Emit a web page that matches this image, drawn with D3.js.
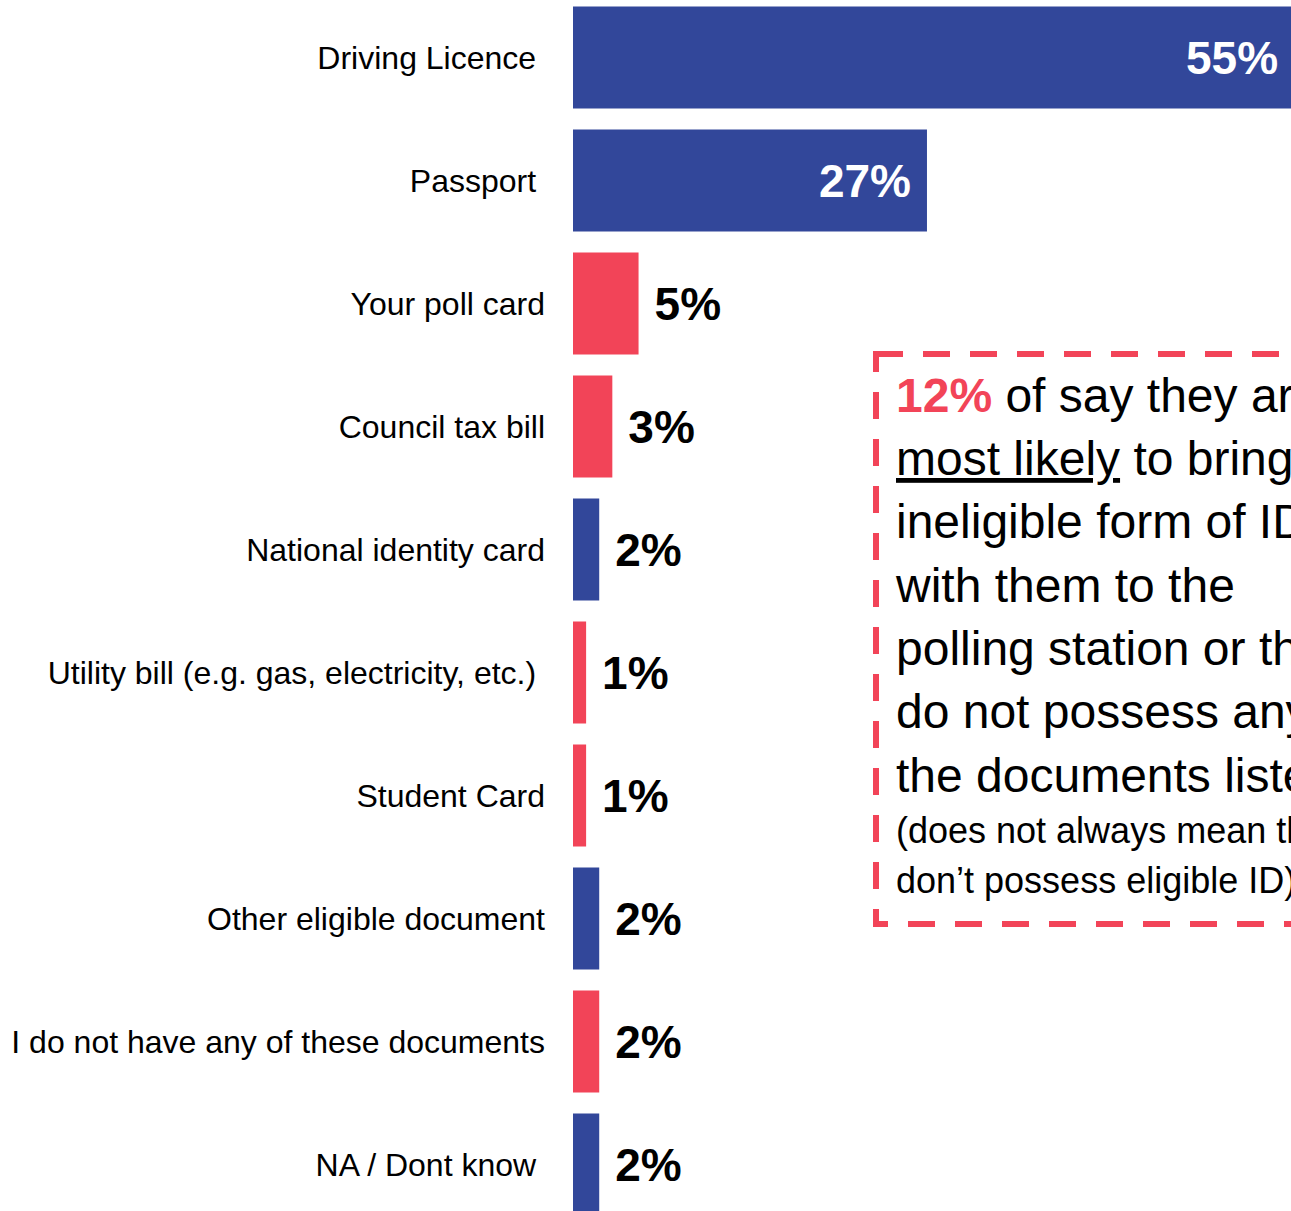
<!DOCTYPE html>
<html>
<head>
<meta charset="utf-8">
<script src="https://cdn.jsdelivr.net/npm/d3@7"></script>
<style>
  html, body { margin: 0; padding: 0; background: #fff; overflow: hidden; }
  svg { display: block; font-family: "Liberation Sans", Arial, sans-serif; }
  text { white-space: pre; }
</style>
</head>
<body>
<div class="Chart"></div>
<script>
// categories (trailing spaces are in the original labels)
const categories = [
  'Driving Licence ',
  'Passport ',
  'Your poll card',
  'Council tax bill',
  'National identity card',
  'Utility bill (e.g. gas, electricity, etc.) ',
  'Student Card',
  'Other eligible document',
  'I do not have any of these documents',
  'NA / Dont know '
];
const values = [55, 27, 5, 3, 2, 1, 1, 2, 2, 2];
const groups = ['eligible', 'eligible', 'ineligible', 'ineligible', 'eligible',
  'ineligible', 'ineligible', 'eligible', 'ineligible', 'eligible'];

const noteHighlight = '12%';
const noteLines = [
  ' of say they are',
  'most likely to bring an',
  'ineligible form of ID',
  'with them to the',
  'polling station or they',
  'do not possess any of',
  'the documents listed'
];
const noteSmallLines = [
  '(does not always mean they',
  'don’t possess eligible ID)'
];

const width = 1291, height = 1211;
const BLUE = '#32479A', RED = '#F24458';

const svg = d3.select('.Chart').append('svg')
  .attr('width', width).attr('height', height)
  .attr('xml:space', 'preserve');

const data = categories.map((c, i) => ({ cat: c, value: values[i], group: groups[i] }));

const x = d3.scaleLinear().domain([0, 100]).range([573, 573 + 1311]);
const y = d3.scaleBand().domain(categories).range([-14.5, 1236.5]).padding(21 / 123);
const color = d3.scaleOrdinal().domain(['eligible', 'ineligible']).range([BLUE, RED]);

// bars
svg.selectAll('.Bar')
  .data(data)
  .enter().append('rect')
  .attr('class', 'Bar')
  .attr('x', x(0))
  .attr('y', d => y(d.cat))
  .attr('width', d => x(d.value) - x(0))
  .attr('height', y.bandwidth())
  .attr('fill', d => color(d.group));

// category labels
const yAxis = svg.append('g')
  .attr('transform', `translate(${x(0)}, 0)`)
  .call(d3.axisLeft(y).tickSize(0).tickPadding(28));
yAxis.selectAll('.domain').remove();
yAxis.selectAll('text')
  .attr('font-family', '"Liberation Sans", Arial, sans-serif')
  .style('font-size', '32px')
  .style('fill', '#000')
  .attr('dy', '0.36em');

// value labels
svg.selectAll('.Val')
  .data(data)
  .enter().append('text')
  .attr('class', 'Val')
  .attr('x', d => d.value > 10 ? x(d.value) - 16 : x(d.value) + 16)
  .attr('y', d => y(d.cat) + y.bandwidth() / 2)
  .attr('dy', '0.36em')
  .attr('text-anchor', d => d.value > 10 ? 'end' : 'start')
  .style('font-size', '46px')
  .style('font-weight', 'bold')
  .style('fill', d => d.value > 10 ? '#fff' : '#000')
  .text(d => d.value + '%');

// annotation box
svg.append('rect')
  .attr('x', 876).attr('y', 354)
  .attr('width', 520).attr('height', 570)
  .attr('fill', 'none')
  .attr('stroke', RED)
  .attr('stroke-width', 6)
  .attr('stroke-dasharray', '27 20');

const note = svg.append('g');
const first = note.append('text')
  .attr('x', 896).attr('y', 412)
  .style('font-size', '48px');
first.append('tspan').text(noteHighlight)
  .style('font-weight', 'bold').style('fill', RED);
first.append('tspan').text(noteLines[0]).style('fill', '#000');

noteLines.slice(1).forEach((line, i) => {
  const t = note.append('text')
    .attr('x', 896).attr('y', 475 + i * 63.3)
    .style('font-size', '48px').style('fill', '#000');
  if (i === 0) {
    t.append('tspan').text('most likely').style('text-decoration', 'underline');
    t.append('tspan').text(line.slice('most likely'.length));
  } else {
    t.text(line);
  }
});

noteSmallLines.forEach((line, i) => {
  note.append('text')
    .attr('x', 896).attr('y', 843 + i * 50)
    .style('font-size', '36px').style('fill', '#000')
    .text(line);
});
</script>
</body>
</html>
